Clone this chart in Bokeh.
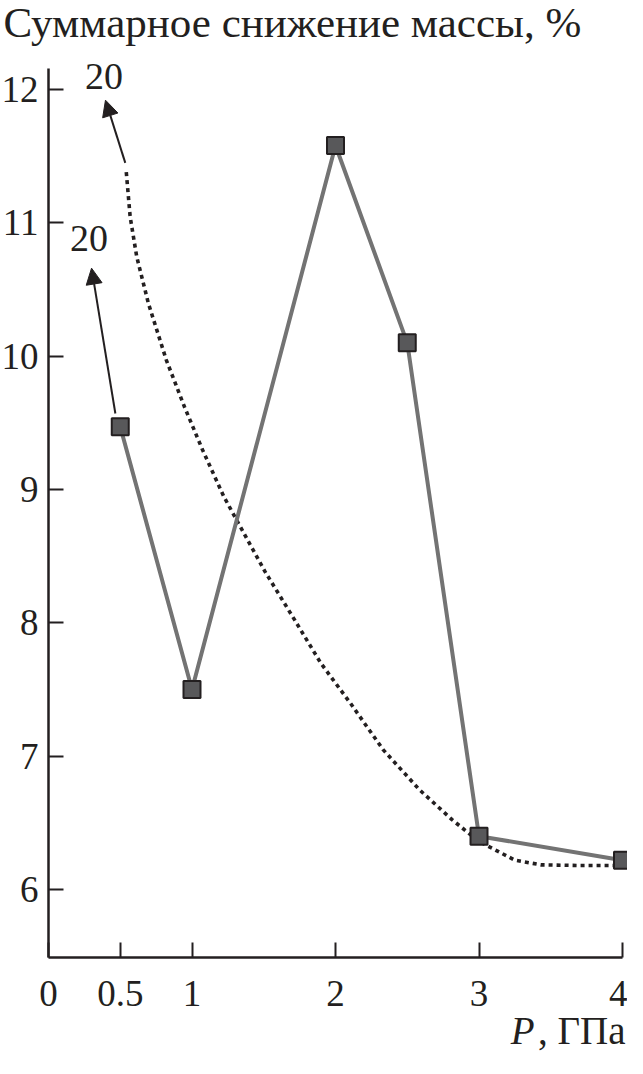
from bokeh.plotting import figure
from bokeh.models import Range1d, FixedTicker, Label, Arrow, NormalHead
from bokeh.embed import file_html
from bokeh.resources import INLINE

# ---- data ----
pressure = [0.5, 1, 2, 2.5, 3, 4]
mass_loss = [9.47, 7.50, 11.58, 10.10, 6.40, 6.22]

trend_x = [0.542, 0.569, 0.615, 0.696, 0.821, 0.947, 1.074, 1.222, 1.509, 1.715,
           1.898, 2.104, 2.333, 2.586, 2.814, 3.0, 3.25, 3.43, 3.7, 4.0]
trend_y = [11.38, 11.045, 10.745, 10.396, 9.971, 9.621, 9.296, 8.946, 8.384, 8.022,
           7.697, 7.397, 7.047, 6.747, 6.522, 6.36, 6.22, 6.185, 6.18, 6.18]

x_ticks = [0, 0.5, 1, 2, 3, 4]
y_ticks = [6, 7, 8, 9, 10, 11, 12]
x_axis_span = (0, 4)
y_axis_span = (5.49, 12.16)

arrow_start_x = [0.466, 0.535]
arrow_start_y = [9.57, 11.45]
arrow_end_x = [0.30, 0.397]
arrow_end_y = [10.66, 11.92]
arrow_label_x = [0.283, 0.386]
arrow_label_y = [10.885, 12.094]
arrow_labels = ["20", "20"]

y_title = "Суммарное снижение массы, %"
x_title_var = "P"
x_title_unit = ", ГПа"

FONT = "Liberation Serif"
INK = "#231f20"

p = figure(width=627, height=1058, output_backend="svg", toolbar_location=None,
           x_range=Range1d(-0.3345, 4.0348), y_range=Range1d(4.7325, 12.6675),
           min_border=0, min_border_left=0, min_border_right=0,
           min_border_top=0, min_border_bottom=0)
p.outline_line_color = None
p.grid.visible = False
p.background_fill_color = "white"
p.border_fill_color = "white"

for ax in (p.xaxis[0], p.yaxis[0]):
    ax.axis_line_color = INK
    ax.axis_line_width = 2.5
    ax.major_tick_line_color = INK
    ax.major_tick_line_width = 2
    ax.major_tick_in = 15
    ax.major_tick_out = 0
    ax.minor_tick_line_color = None
    ax.major_label_text_font = FONT
    ax.major_label_text_font_size = "37px"
    ax.major_label_text_color = INK

p.xaxis[0].ticker = FixedTicker(ticks=x_ticks)
p.yaxis[0].ticker = FixedTicker(ticks=y_ticks)
p.xaxis[0].major_label_overrides = {0: "0", 0.5: "0.5", 1: "1", 2: "2", 3: "3", 4: "4"}
p.xaxis[0].bounds = x_axis_span
p.yaxis[0].bounds = y_axis_span
p.xaxis[0].fixed_location = y_axis_span[0]
p.yaxis[0].fixed_location = x_axis_span[0]
p.xaxis[0].major_label_standoff = 23
p.yaxis[0].major_label_standoff = 10

# dotted trend
p.line(trend_x, trend_y, line_color=INK, line_width=3.6, line_dash="4 4")

# data polyline and markers
p.line(pressure, mass_loss, line_color="#737373", line_width=4)
p.scatter(pressure, mass_loss, marker="square", size=17, fill_color="#58585a",
          line_color=INK, line_width=2)

# arrows with labels
for sx, sy, ex, ey in zip(arrow_start_x, arrow_start_y, arrow_end_x, arrow_end_y):
    p.add_layout(Arrow(x_start=sx, y_start=sy, x_end=ex, y_end=ey,
                       line_color=INK, line_width=2,
                       end=NormalHead(size=16, fill_color=INK, line_color=INK, line_width=1)))
for lx, ly, t in zip(arrow_label_x, arrow_label_y, arrow_labels):
    p.add_layout(Label(x=lx, y=ly, text=t, text_font=FONT, text_font_size="38px",
                       text_color=INK, text_align="center", text_baseline="middle"))

# axis titles
p.add_layout(Label(x=-0.3136, y=12.5025, text=y_title, text_font=FONT, text_font_size="43px",
                   text_color=INK, text_align="left", text_baseline="middle"))
p.add_layout(Label(x=4.0209, y=4.9425, text=x_title_unit, text_font=FONT, text_font_size="39px",
                   text_color=INK, text_align="right", text_baseline="middle"))
p.add_layout(Label(x=4.0209, y=4.9425, x_offset=-91, text=x_title_var, text_font=FONT,
                   text_font_size="39px", text_font_style="italic",
                   text_color=INK, text_align="right", text_baseline="middle"))

open("out.html", "w").write(file_html(p, INLINE))
